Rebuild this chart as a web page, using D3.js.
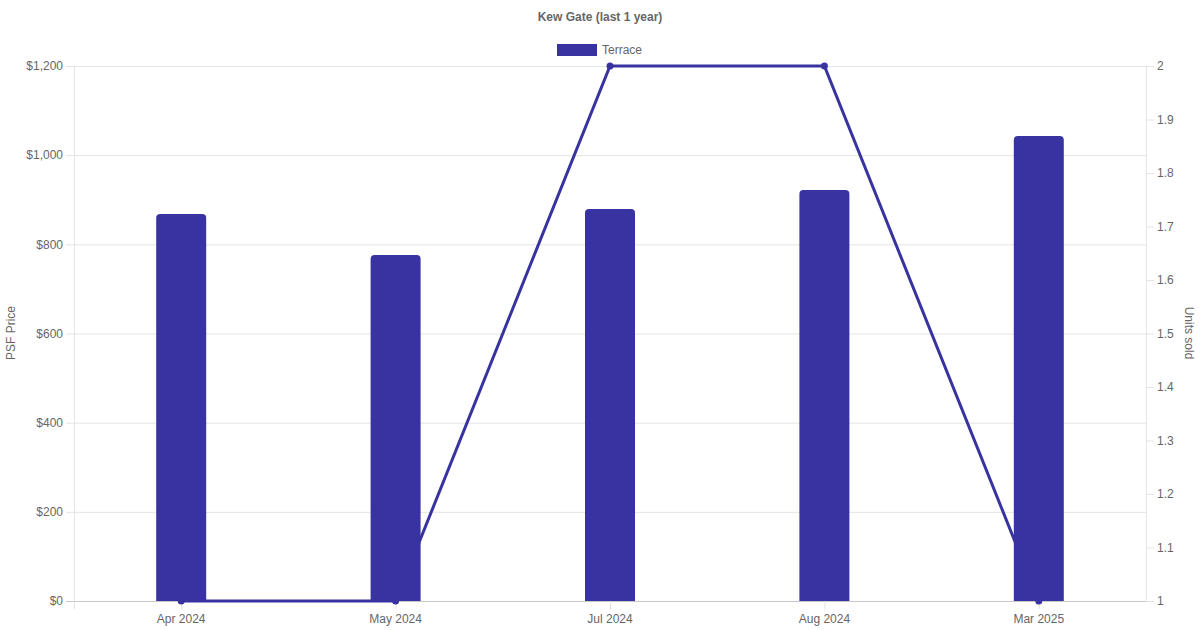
<!DOCTYPE html>
<html><head><meta charset="utf-8">
<script src="https://cdn.jsdelivr.net/npm/d3@7"></script>
<style>body{margin:0;background:#fff;}svg{display:block;font-family:"Liberation Sans",Arial,Helvetica,sans-serif;}</style>
</head><body><svg id="c" width="1200" height="630"></svg>
<script>
const categories = ["Apr 2024","May 2024","Jul 2024","Aug 2024","Mar 2025"];
const psfValues = [868, 776, 879, 922, 1043];
const unitsSold = [1, 1, 2, 2, 1];
const leftTicks = [0,200,400,600,800,1000,1200];
const rightTicks = [1,1.1,1.2,1.3,1.4,1.5,1.6,1.7,1.8,1.9,2];
const title = "Kew Gate (last 1 year)";
const seriesName = "Terrace";
const color = "#3833A0";

const svg = d3.select("#c");
const L=74, R=1146, T=66, B=601;
const x = d3.scaleBand().domain(categories).range([L,R]);
const yL = d3.scaleLinear().domain([0,1200]).range([B,T]);
const yR = d3.scaleLinear().domain([1,2]).range([B,T]);
const txt = "#666";

// gridlines
const g = svg.append("g");
g.selectAll("line.h").data(leftTicks).join("line")
 .attr("x1",L-8).attr("x2",R).attr("y1",d=>yL(d)+0.5).attr("y2",d=>yL(d)+0.5)
 .attr("stroke",d=>d===0?"#c8c8c8":"#e4e4e4").attr("stroke-width",1);
g.selectAll("line.r").data(rightTicks).join("line")
 .attr("x1",R).attr("x2",R+8).attr("y1",d=>yR(d)+0.5).attr("y2",d=>yR(d)+0.5)
 .attr("stroke","#e4e4e4");
g.append("line").attr("x1",L+0.5).attr("x2",L+0.5).attr("y1",T).attr("y2",B+8).attr("stroke","#e4e4e4");
g.append("line").attr("x1",R+0.5).attr("x2",R+0.5).attr("y1",T).attr("y2",B).attr("stroke","#e4e4e4");
g.selectAll("line.v").data(categories).join("line")
 .attr("x1",d=>x(d)+x.bandwidth()/2+0.5).attr("x2",d=>x(d)+x.bandwidth()/2+0.5)
 .attr("y1",B).attr("y2",B+8).attr("stroke","#e4e4e4");

// left ticks
svg.append("g").selectAll("text").data(leftTicks).join("text")
 .attr("x",63).attr("y",d=>yL(d)).attr("dy","0.35em").attr("text-anchor","end")
 .attr("font-size",12).attr("fill",txt).text(d=>"$"+d3.format(",")(d));
svg.append("g").selectAll("text").data(rightTicks).join("text")
 .attr("x",1157).attr("y",d=>yR(d)).attr("dy","0.35em").attr("text-anchor","start")
 .attr("font-size",12).attr("fill",txt).text(d=>d3.format("~g")(d));
svg.append("g").selectAll("text").data(categories).join("text")
 .attr("x",d=>x(d)+x.bandwidth()/2).attr("y",619).attr("dy","0.35em").attr("text-anchor","middle")
 .attr("font-size",12).attr("fill",txt).text(d=>d);

// axis titles
svg.append("text").attr("transform","translate(15,333) rotate(-90)").attr("text-anchor","middle")
 .attr("font-size",12).attr("fill",txt).text("PSF Price");
svg.append("text").attr("transform","translate(1185,333) rotate(90)").attr("text-anchor","middle")
 .attr("font-size",12).attr("fill",txt).text("Units sold");

// title & legend
svg.append("text").attr("x",600).attr("y",17).attr("dy","0.35em").attr("text-anchor","middle")
 .attr("font-size",12).attr("font-weight","bold").attr("fill",txt).text(title);
svg.append("rect").attr("x",557).attr("y",44).attr("width",40).attr("height",12).attr("fill",color);
svg.append("text").attr("x",602).attr("y",50).attr("dy","0.35em").attr("font-size",12).attr("fill",txt).text(seriesName);

// bars with rounded top corners
const bw = 50, r = 4;
svg.append("g").selectAll("path").data(categories).join("path")
 .attr("fill",color)
 .attr("d",(d,i)=>{
   const cx = x(d)+x.bandwidth()/2, x0=cx-bw/2, x1=cx+bw/2, y0=yL(psfValues[i]), yb=yL(0);
   return `M${x0},${yb}L${x0},${y0+r}Q${x0},${y0} ${x0+r},${y0}L${x1-r},${y0}Q${x1},${y0} ${x1},${y0+r}L${x1},${yb}Z`;
 });

// line
const line = d3.line().x((d,i)=>x(categories[i])+x.bandwidth()/2).y(d=>yR(d));
svg.append("path").datum(unitsSold).attr("d",line).attr("fill","none").attr("stroke",color).attr("stroke-width",3);
svg.append("g").selectAll("circle").data(unitsSold).join("circle")
 .attr("cx",(d,i)=>x(categories[i])+x.bandwidth()/2).attr("cy",d=>yR(d)).attr("r",3.5).attr("fill",color);
</script></body></html>
